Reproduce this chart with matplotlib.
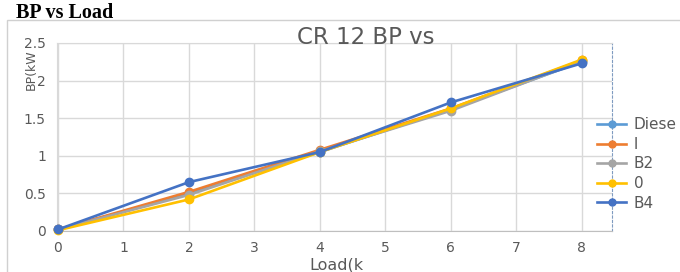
import matplotlib
matplotlib.use("Agg")
import matplotlib.pyplot as plt
from matplotlib.lines import Line2D
from matplotlib.patches import Rectangle

# Data
LOAD = [0, 2, 4, 6, 8]
BP_DIESEL = [0.02, 0.50, 1.05, 1.62, 2.25]
BP_ORANGE = [0.02, 0.52, 1.08, 1.63, 2.27]
BP_B20 = [0.02, 0.48, 1.06, 1.60, 2.26]
BP_YELLOW = [0.01, 0.42, 1.05, 1.63, 2.28]
BP_B4 = [0.02, 0.65, 1.05, 1.71, 2.23]

SERIES = [BP_DIESEL, BP_ORANGE, BP_B20, BP_YELLOW, BP_B4]
LEGEND_LABELS = ["Diese", "l", "B2", "0", "B4"]
COLORS = ["#5B9BD5", "#ED7D31", "#A5A5A5", "#FFC000", "#4472C4"]

X_TICKS = [0, 1, 2, 3, 4, 5, 6, 7, 8]
Y_TICKS = [0, 0.5, 1, 1.5, 2, 2.5]
Y_TICK_LABELS = ["0", "0.5", "1", "1.5", "2", "2.5"]

TEXT_GRAY = "#595959"
GRID_GRAY = "#D9D9D9"

fig = plt.figure(figsize=(6.8, 2.72), dpi=100)
fig.patch.set_facecolor("white")

# outer chart box
fig.patches.append(Rectangle((7 / 680, -0.05), 1.0, 1 - 20 / 272 + 0.05,
                             transform=fig.transFigure, fill=False,
                             edgecolor="#D0D0D0", linewidth=1.0))

fig.text(16 / 680, 1 - 17.5 / 272, "BP vs Load", fontsize=14.5,
         fontweight="bold", family="Liberation Serif", va="baseline", ha="left")

ax = fig.add_axes([57 / 680, 1 - 231 / 272, (612 - 57) / 680, (231 - 43) / 272])

for vals, color in zip(SERIES, COLORS):
    ax.plot(LOAD, vals, color=color, linewidth=1.9, marker="o",
            markersize=6, zorder=3, clip_on=False)

ax.set_xlim(-0.015, 8.46)
ax.set_ylim(0, 2.5)
ax.set_xticks(X_TICKS)
ax.set_yticks(Y_TICKS)
ax.set_yticklabels(Y_TICK_LABELS)
ax.tick_params(length=0, colors=TEXT_GRAY, labelsize=10)
ax.tick_params(axis="x", pad=7)
ax.tick_params(axis="y", pad=8)
ax.grid(True, color=GRID_GRAY, linewidth=1.0)
ax.set_axisbelow(True)

for side in ["top", "left"]:
    ax.spines[side].set_color(GRID_GRAY)
ax.spines["bottom"].set_color("#BFBFBF")
ax.spines["right"].set_color("#7F9BC0")
ax.spines["right"].set_linestyle((0, (2, 2)))
ax.spines["right"].set_linewidth(0.8)

fig.text(366 / 680, 1 - 38 / 272, "CR 12 BP vs", fontsize=16.5,
         color=TEXT_GRAY, ha="center", va="center")
fig.text(336 / 680, 1 - 264.5 / 272, "Load(k", fontsize=11.5,
         color=TEXT_GRAY, ha="center", va="center")
fig.text(31 / 680, 1 - 70 / 272, "BP(kW", fontsize=9, rotation=90,
         color=TEXT_GRAY, ha="center", va="center")

handles = [Line2D([0], [0], color=c, linewidth=1.9, marker="o", markersize=5)
           for c in COLORS]
ax.legend(handles, LEGEND_LABELS, loc="center left",
          bbox_to_anchor=(597 / 680, 1 - 164 / 272),
          bbox_transform=fig.transFigure, frameon=False,
          fontsize=11, labelcolor=TEXT_GRAY, handlelength=1.9,
          handletextpad=0.5, labelspacing=0.3, borderaxespad=0, borderpad=0)

fig.savefig("out.png", dpi=100, facecolor="white")
